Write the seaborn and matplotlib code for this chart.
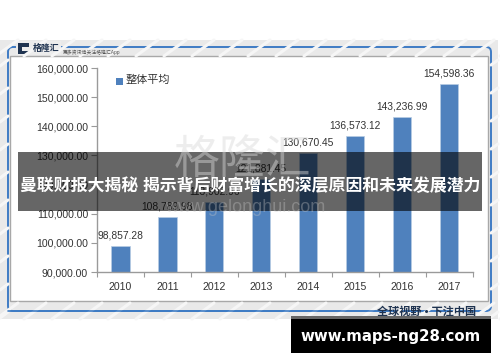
import matplotlib
matplotlib.use("Agg")
import matplotlib.pyplot as plt
from matplotlib.patches import Rectangle, FancyBboxPatch
import seaborn as sns
import pandas as pd

years = ["2010", "2011", "2012", "2013", "2014", "2015", "2016", "2017"]
values = [98857.28, 108789.98, 113902.96, 121881.45, 130670.45, 136573.12, 143236.99, 154598.36]
value_labels = ["98,857.28", "108,789.98", "113,902.96", "121,881.45", "130,670.45", "136,573.12", "143,236.99", "154,598.36"]
yticks = [90000, 100000, 110000, 120000, 130000, 140000, 150000, 160000]
series_name = "整体平均"
overlay_title = "曼联财报大揭秘 揭示背后财富增长的深层原因和未来发展潜力"
site = "www.maps-ng28.com"
slogan = "全球视野 • 下注中国"

sns.set_theme(style="white")
plt.rcParams["font.family"] = ["Liberation Sans", "Noto Sans CJK SC", "DejaVu Sans"]
W, H = 500, 362
fig = plt.figure(figsize=(W/100, H/100), dpi=100, facecolor="white")

bg = fig.add_axes([0, 0, 1, 1], zorder=0)
bg.set_xlim(0, W); bg.set_ylim(H, 0); bg.axis("off")
bg.add_patch(Rectangle((0, 40), 498, 279, fc="#e9e9e9", ec="none"))
for x0 in range(-60, 560, 28):
    bg.plot([x0, x0 + 22], [56, 40], color="#f6f6f6", lw=2.2, clip_on=True)
    bg.plot([x0, x0 + 22], [319, 303], color="#f6f6f6", lw=2.2, clip_on=True)
for y0 in range(60, 320, 28):
    bg.plot([0, 8], [y0 + 6, y0], color="#f6f6f6", lw=2.2)
    bg.plot([491, 498], [y0 + 5, y0], color="#f6f6f6", lw=2.2)
bg.add_patch(FancyBboxPatch((8, 47), 483, 264, boxstyle="round,pad=0,rounding_size=5", fc="none", ec="#3f7cc4", lw=1.4))
bg.add_patch(Rectangle((10, 56), 478, 245, fc="white", ec="#a8a8a8", lw=1))
bg.add_patch(Rectangle((16, 41), 45, 14.4, fc="#ececec", ec="none"))
bg.add_patch(Rectangle((18, 43), 11, 11, fc="#1f3350", ec="none"))
bg.add_patch(Rectangle((22, 47), 7, 3.5, fc="#ececec", ec="none"))
bg.text(33, 48, "格隆汇", fontsize=6.4, fontweight="bold", color="#1f3350", ha="left", va="center")
bg.text(63, 52.5, "更多资讯请关注格隆汇App", fontsize=3.5, color="#555555", ha="left", va="center")

ax = fig.add_axes([97/W, 1-272/H, 375.5/W, 204/H], zorder=2)
ax.patch.set_alpha(0)
df = pd.DataFrame({"year": years, "value": values})
sns.barplot(data=df, x="year", y="value", color="#4f81bd", saturation=1, width=0.39, ax=ax, zorder=2, edgecolor="#b8cce4", linewidth=0.5)
ax.set_ylim(90000, 160000)
ax.set_xlim(-0.5, 7.5)
ax.set_xlabel(""); ax.set_ylabel("")
ax.set_yticks(yticks)
ax.set_yticklabels([f"{v:,.2f}" for v in yticks])
for s in ("top", "right"):
    ax.spines[s].set_visible(False)
for s in ("left", "bottom"):
    ax.spines[s].set_color("#9a9a9a"); ax.spines[s].set_linewidth(1)
ax.tick_params(axis="y", length=4.5, width=0.8, color="#9a9a9a", labelsize=7.6, labelcolor="#333333", pad=2, left=True)
ax.set_xticks([i - 0.5 for i in range(9)], minor=True)
ax.tick_params(axis="x", which="major", length=0, labelsize=7.6, labelcolor="#333333", pad=7)
ax.tick_params(axis="x", which="minor", length=3.5, width=0.8, color="#9a9a9a", bottom=True, direction="out")
for i, (v, lab) in enumerate(zip(values, value_labels)):
    ax.annotate(lab, (i, v), xytext=(0, 4), textcoords="offset points", ha="center", va="bottom", fontsize=7.4, color="#333333")

ov = fig.add_axes([0, 0, 1, 1], zorder=3)
ov.set_xlim(0, W); ov.set_ylim(H, 0); ov.axis("off"); ov.patch.set_alpha(0)
ov.add_patch(Rectangle((116, 78), 7, 6.5, fc="#4f81bd", ec="none"))
ov.text(126, 80, series_name, fontsize=8, color="#333333", ha="left", va="center")
ov.text(243, 161, "格隆汇", fontsize=33, color="#d9d9d9", alpha=0.45, ha="center", va="center")
ov.text(245, 207, "www.gelonghui.com", fontsize=13, color="#c8c8c8", alpha=0.35, ha="center", va="center")
ov.add_patch(Rectangle((18, 152), 464, 59, fc="black", alpha=0.6, ec="none"))
ov.text(250, 186, overlay_title, fontsize=12.2, fontweight="bold", color="white", ha="center", va="center")
ov.plot([8, 376], [311, 311], color="#3f7cc4", lw=1.2)
ov.text(427, 311, slogan, fontsize=8, fontweight="bold", color="#1f3350", ha="center", va="center")
ov.add_patch(Rectangle((291, 316), 200, 3, fc="#666666", ec="none"))
ov.add_patch(Rectangle((291, 319), 200, 34, fc="black", ec="none"))
ov.text(391, 336, site, fontsize=10.8, fontweight="bold", color="white", family="DejaVu Sans", ha="center", va="center")

fig.savefig("out.png", dpi=100)
